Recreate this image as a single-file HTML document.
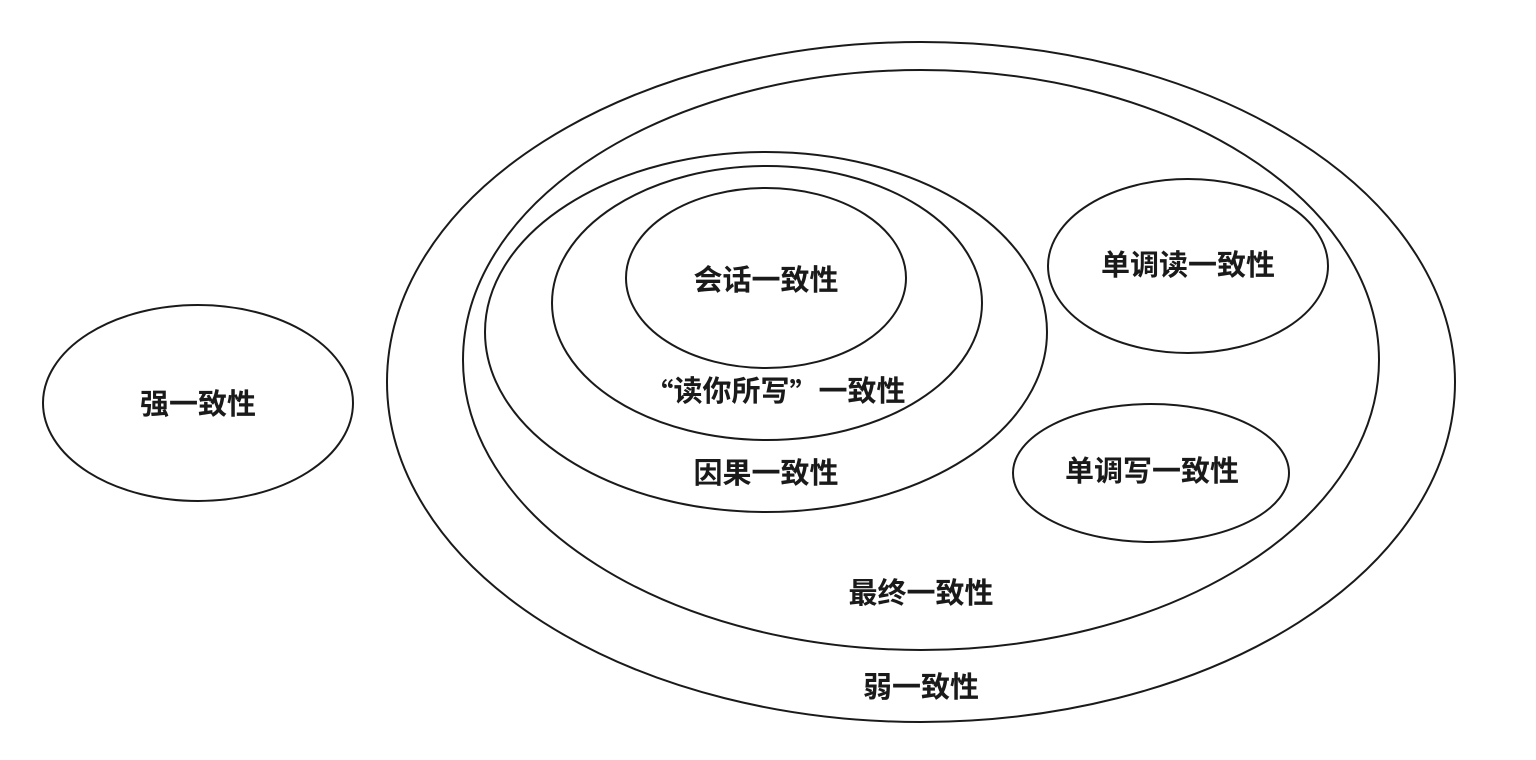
<!DOCTYPE html>
<html><head><meta charset="utf-8"><style>
html,body{margin:0;padding:0;background:#fff;}
svg{display:block;}
text{font-family:"Liberation Sans","Noto Sans CJK SC",sans-serif;font-weight:bold;font-size:29px;fill:#1a1a1a;text-anchor:middle;dominant-baseline:central;}
.q{font-family:"Noto Sans CJK SC",sans-serif;}
</style></head><body>
<svg width="1536" height="760" viewBox="0 0 1536 760" xmlns="http://www.w3.org/2000/svg">
<g fill="none" stroke="#1a1a1a" stroke-width="2">
<ellipse cx="198" cy="403" rx="155" ry="98"/>
<ellipse cx="921" cy="382" rx="534" ry="340"/>
<ellipse cx="921" cy="360" rx="458" ry="290"/>
<ellipse cx="766" cy="332" rx="281" ry="180"/>
<ellipse cx="767" cy="303" rx="215" ry="137"/>
<ellipse cx="766" cy="278" rx="140" ry="90"/>
<ellipse cx="1188" cy="266" rx="140" ry="87"/>
<ellipse cx="1151" cy="473" rx="138" ry="69"/>
</g>
<text x="198" y="405">强一致性</text>
<text x="766" y="281">会话一致性</text>
<text x="775" y="392"><tspan class="q">“</tspan>读你所写<tspan class="q">”</tspan>一致性</text>
<text x="766" y="474">因果一致性</text>
<text x="1188" y="266">单调读一致性</text>
<text x="1152" y="472">单调写一致性</text>
<text x="921" y="594">最终一致性</text>
<text x="921" y="688">弱一致性</text>
</svg>
</body></html>
